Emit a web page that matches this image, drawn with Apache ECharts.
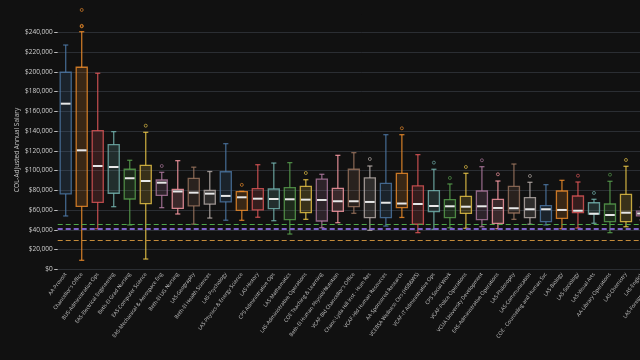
<!DOCTYPE html>
<html>
<head>
<meta charset="utf-8">
<script src="https://cdn.jsdelivr.net/npm/echarts@6/dist/echarts.min.js"></script>
<style>
html,body{margin:0;padding:0;background:#111111;overflow:hidden;}
#chart{width:666px;height:360px;}
</style>
</head>
<body>
<div id="chart"></div>
<script>
const categories = [
  "AA-Provost","Chancellor's Office","BUS-Administrative Ops","EAS-Electrical Engineering",
  "Beth-El Grad Nursing","EAS-Computer Science","EAS-Mechanical & Aerospace Eng","Beth-El UG Nursing",
  "LAS-Geography","Beth-El Health Sciences","LAS-Psychology","LAS-Physics & Energy Science",
  "LAS-History","CPS Administrative Ops","LAS-Mathematics","LAS-Administrative Operations",
  "COE Teaching & Learning","Beth-El Human Physiol/Nutrition","VCAF-Bld Chancellor's Office","Chanc-Lyda Hill Inst - Hum Res",
  "VCAF-Hld Human Resources","AA-Sponsored Research","VCEBSA Wellness Ctrs (HSB&WS)","VCAF-IT Administrative Ops",
  "CPS Social Work","VCAF-Police Operations","VCUA University Development","EAS-Administrative Operations",
  "LAS-Philosophy","LAS-Communication","COE - Counseling and Human Svc","LAS-Biology",
  "LAS-Sociology","LAS-Visual Arts","AA-Library Operations","LAS-Chemistry",
  "LAS-English","LAS-Foreign Languages"
];
const lowerWhisker = [54000,9100,41100,63400,44900,10400,62400,56000,45700,51900,49700,49600,
  52700,49200,35700,50600,42100,47200,56700,39500,43800,52500,37100,40500,
  42100,41500,43100,41100,50600,45600,44900,41100,41800,46600,37100,43100,50000,45000];
const q1 = [76300,63800,67800,77000,71200,66400,74900,61600,64200,66000,68300,59700,
  60100,61400,50200,57300,48900,58700,63400,52300,52300,62400,45600,58300,
  52300,56700,50200,46600,57000,52300,48200,51600,57300,56000,48200,48200,54000,50000];
const medians = [167700,120500,104600,103600,92200,89400,87700,78800,77600,76600,74300,72900,
  71500,71200,70900,70500,70200,68900,68900,68200,67400,66600,66100,64100,
  63800,63400,63800,62100,61800,60800,60800,60100,59300,56300,55000,57300,56500,55000];
const q3 = [199500,204600,140400,126200,101300,105300,90400,81000,92000,79800,98800,78600,
  81600,81300,82600,84000,91400,82000,101300,92500,87100,97200,84400,79600,
  70500,73900,79300,70900,84000,72500,64400,79300,74200,67400,66100,75900,59000,60000];
const upperWhisker = [227100,240600,198500,139400,110400,138700,98200,110000,103400,99000,127200,79000,
  105900,107600,108000,90700,96200,115400,118100,104600,136300,136300,116100,101300,
  86400,97200,103900,89400,106600,88100,85700,90100,88400,70900,89100,104300,63000,70000];
const outlierCats = [1,1,1,5,6,11,15,19,21,23,24,25,26,27,29,32,33,34,35];
const outlierVals = [246000,246500,262600,145400,104600,85500,97500,111700,142800,108000,92500,103600,110400,96200,94500,94800,77300,95800,110700];
const refLineVals = [45600, 41500, 29000];
const refLineColors = ['#4fa84a', '#7d63c9', '#c48b3a'];
const yTicks = [0,20000,40000,60000,80000,100000,120000,140000,160000,180000,200000,220000,240000];
const yTitle = 'COL-Adjusted Annual Salary';

const palette = ['#4e79a7','#f28e2b','#e15759','#76b7b2','#59a14f','#edc948','#b07aa1','#ff9da7','#9c755f','#bab0ac'];
function rgba(hex, a){
  const n = parseInt(hex.slice(1),16);
  return 'rgba(' + ((n>>16)&255) + ',' + ((n>>8)&255) + ',' + (n&255) + ',' + a + ')';
}

const boxData = categories.map((c,i)=>[i, lowerWhisker[i], q1[i], medians[i], q3[i], upperWhisker[i]]);
const outlierData = outlierCats.map((ci,k)=>({
  value:[ci, outlierVals[k]],
  itemStyle:{color:'rgba(0,0,0,0)', borderColor: rgba(palette[ci%10],0.8), borderWidth:1}
}));

function renderBox(params, api){
  const i = api.value(0);
  const color = palette[i%10];
  const band = api.size([1,0])[0];
  const w = band*0.69;
  const cap = band*0.32;
  const pLow = api.coord([i, api.value(1)]);
  const pQ1 = api.coord([i, api.value(2)]);
  const pMed = api.coord([i, api.value(3)]);
  const pQ3 = api.coord([i, api.value(4)]);
  const pHigh = api.coord([i, api.value(5)]);
  const cx = pMed[0];
  const stroke = rgba(color,0.8);
  const ls = {stroke: stroke, lineWidth: 1.3, fill: null};
  return {type:'group', children:[
    {type:'line', shape:{x1:cx,y1:pQ3[1],x2:cx,y2:pHigh[1]}, style:ls},
    {type:'line', shape:{x1:cx,y1:pQ1[1],x2:cx,y2:pLow[1]}, style:ls},
    {type:'line', shape:{x1:cx-cap/2,y1:pHigh[1],x2:cx+cap/2,y2:pHigh[1]}, style:ls},
    {type:'line', shape:{x1:cx-cap/2,y1:pLow[1],x2:cx+cap/2,y2:pLow[1]}, style:ls},
    {type:'rect', shape:{x:cx-w/2, y:pQ3[1], width:w, height:pQ1[1]-pQ3[1]},
      style:{fill: rgba(color,0.18), stroke: stroke, lineWidth:1.3}},
    {type:'line', shape:{x1:cx-w/2+0.7,y1:pMed[1],x2:cx+w/2-0.7,y2:pMed[1]}, style:{stroke:'#e8e8e8', lineWidth:2}}
  ]};
}

const gridColors = yTicks.map(()=> '#2b2e33');
gridColors.push('#111111');

const chart = echarts.init(document.getElementById('chart'), null, {renderer:'canvas'});
chart.setOption({
  backgroundColor:'#111111',
  animation:false,
  textStyle:{fontFamily:'"Open Sans", Arial, sans-serif'},
  grid:{left:57.7, right:0, top:14.5, bottom:90.7, containLabel:false},
  graphic:[{type:'text', x:17, y:150, rotation:Math.PI/2, silent:true,
    style:{text:yTitle, fill:'#c8c8c8', fontSize:6.5, fontFamily:'"Open Sans", Arial, sans-serif',
      align:'center', verticalAlign:'middle'}}],
  xAxis:{
    type:'category', data:categories,
    axisLine:{show:false}, axisTick:{show:false}, splitLine:{show:false},
    axisLabel:{interval:0, rotate:53, fontSize:5.2, color:'#c8c8c8', margin:4, fontFamily:'"Open Sans", Arial, sans-serif'}
  },
  yAxis:{
    type:'value', min:0, max:258000, interval:20000,
    axisLine:{show:false},
    axisTick:{show:true, length:3.5, lineStyle:{color:'#bbbbbb'}},
    axisLabel:{showMaxLabel:false, fontSize:6.5, color:'#cfcfcf', margin:5,
      formatter:(v)=> (v%20000===0 ? '$' + v.toLocaleString('en-US') : '')},
    splitLine:{show:true, lineStyle:{color:gridColors, width:1}}
  },
  series:[
    {type:'custom', name:'boxes', renderItem:renderBox, data:boxData, encode:{x:0, y:[1,2,3,4,5]}, z:3,
     markLine:{silent:true, symbol:['none','none'], label:{show:false},
       data: refLineVals.map((v,k)=>({yAxis:v, lineStyle:{color:refLineColors[k], type:[5,3], width: k===1?2:1.2}}))}},
    {type:'scatter', name:'outliers', data:outlierData, symbol:'circle', symbolSize:3, clip:false, z:4}
  ]
});
</script>
</body>
</html>
